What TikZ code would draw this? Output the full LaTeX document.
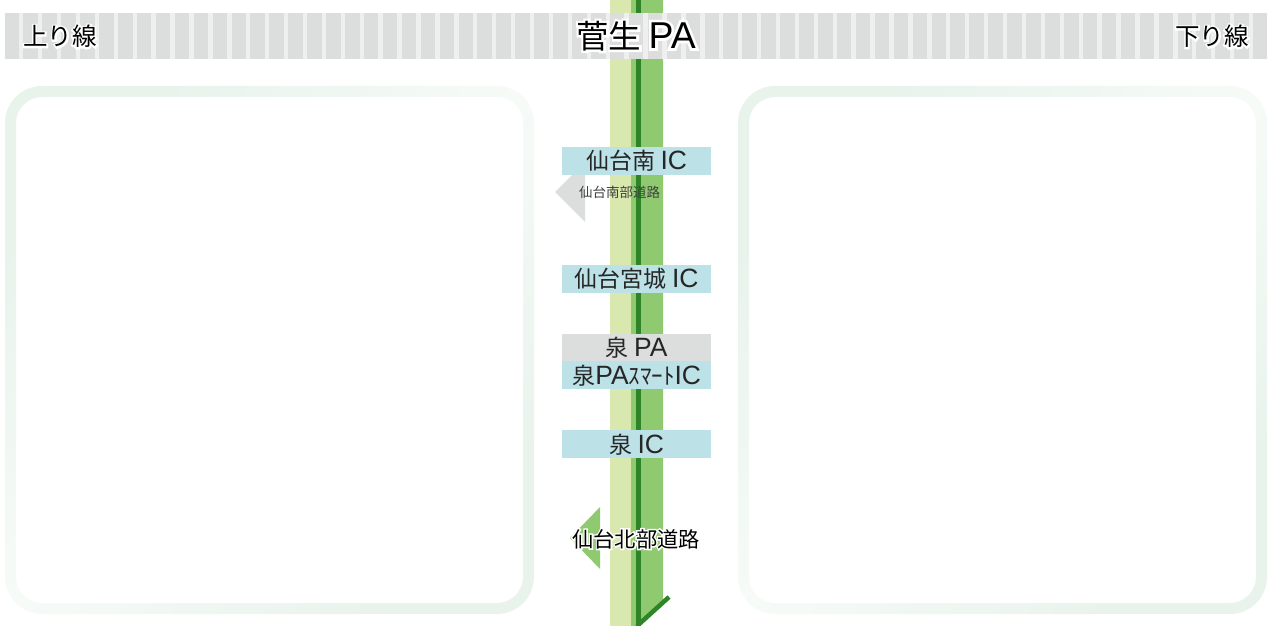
\documentclass[tikz,border=0pt]{standalone}
\usepackage{fontspec}
\setmainfont{Noto Sans CJK JP}
\newfontfamily\halofont[FakeBold=14]{Noto Sans CJK JP}
\newfontfamily\latinf[Scale=1.15]{Liberation Sans}
\newfontfamily\latinhalo[Scale=1.15,FakeBold=14]{Liberation Sans}
\newcommand{\lt}[1]{{\latinf #1}}
\usetikzlibrary{calc}
\definecolor{barc}{HTML}{DCDDDD}
\definecolor{stripec}{HTML}{EFEFEF}
\definecolor{roadl}{HTML}{D8E8AE}
\definecolor{roadm}{HTML}{8FCA70}
\definecolor{roadd}{HTML}{2E8426}
\definecolor{icc}{HTML}{BCE2E8}
\definecolor{panelend}{HTML}{E8F3EC}
\definecolor{panelmid}{HTML}{F7FBF8}
\newcommand{\halotext}[3]{\fontsize{#1}{#1}\selectfont\leavevmode\rlap{\color{white}\halofont\fontsize{#1}{#1}\selectfont #2{\latinhalo\fontsize{#1}{#1}\selectfont #3}}#2{\latinf\fontsize{#1}{#1}\selectfont #3}}
\tikzset{
  x=1pt,y=-1pt,
  panelring/.style={even odd rule,top color=panelend,bottom color=panelend,middle color=panelmid,shading angle=45},
  icbox/.style={fill=icc,minimum width=149pt,minimum height=28pt,inner sep=0pt,text=black!85,anchor=north west},
  pabox/.style={icbox,fill=barc},
  lbl/.style={inner sep=0pt,text=black,anchor=center}
}
\begin{document}
\begin{tikzpicture}
\useasboundingbox (0,0) rectangle (1283,626);
\fill[white] (0,0) rectangle (1283,626);
% panels
\shade[panelring] [rounded corners=37pt] (5,86) rectangle (534,614) [rounded corners=26pt] (16,97) rectangle (523,603);
\shade[panelring] [rounded corners=37pt] (738,86) rectangle (1267,614) [rounded corners=26pt] (749,97) rectangle (1256,603);
% road
\fill[roadl] (609.5,0) rectangle (631,626);
\fill[roadm] (631,0) rectangle (636,626);
\fill[roadm] (641,0) -- (663,0) -- (663,602) -- (641,622) -- cycle;
\fill[roadd] (636,0) rectangle (641,626);
\draw[roadd,line width=4.5pt] (637,626) -- (669,597);
% bar
\fill[barc] (5,13) rectangle (1267,59);
\foreach \k in {0,...,65} \fill[stripec] ({19+18.92*\k},13) rectangle ({23.4+18.92*\k},59);
% branch arrows
\fill[barc] (555,192) -- (585,162) -- (585,222) -- cycle;
\fill[roadm] (570,538) -- (600,507) -- (600,569) -- cycle;
% interchanges
\node[icbox] (sendaiminami) at (562,147) {\fontsize{23}{23}\selectfont 仙台南 \lt{IC}};
\node[lbl,text=black!75] (minamibubu) at (619.5,192) {\fontsize{13.5}{13.5}\selectfont 仙台南部道路};
\node[icbox] (miyagi) at (562,265) {\fontsize{23}{23}\selectfont 仙台宮城 \lt{IC}};
\node[pabox,minimum height=27pt] (izumipa) at (562,334) {\fontsize{23}{23}\selectfont 泉 \lt{PA}};
\node[icbox] (izumismart) at (562,361) {\fontsize{23}{23}\selectfont 泉\lt{PA}ｽﾏｰﾄ\lt{IC}};
\node[icbox] (izumi) at (562,430) {\fontsize{23}{23}\selectfont 泉 \lt{IC}};
\node[lbl] (kitabubu) at (636,539) {\halotext{21.3}{仙台北部道路}{}};
% header labels
\node[lbl] (sugao) at (636,36) {\halotext{32.5}{菅生 }{PA}};
\node[lbl] (nobori) at (60,36.5) {\halotext{24.5}{上り線}{}};
\node[lbl] (kudari) at (1212,36.5) {\halotext{24.5}{下り線}{}};
\end{tikzpicture}
\end{document}
